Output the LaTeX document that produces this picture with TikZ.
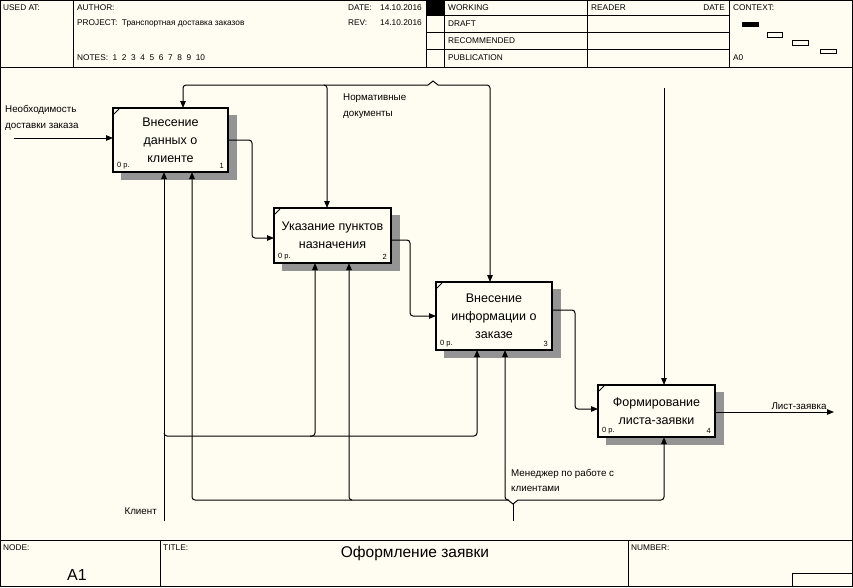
\documentclass[tikz,border=0pt]{standalone}
\usepackage{fontspec}
\setmainfont{Liberation Sans}
\usetikzlibrary{arrows.meta,calc}
\definecolor{bg}{RGB}{255,252,241}
\begin{document}
\begin{tikzpicture}[x=1pt,y=-1pt,
  hdr/.style={font=\fontsize{8.3}{9}\selectfont, anchor=west, inner sep=0pt},
  lbl/.style={font=\fontsize{9.8}{15.5}\selectfont, align=left, inner sep=0pt},
  proc/.style={draw, line width=2pt, fill=bg, inner sep=0pt, outer sep=0pt, align=center,
    font=\fontsize{12.5}{18}\selectfont},
  tag/.style={font=\fontsize{7.5}{8}\selectfont, inner sep=0pt},
  frame/.style={line width=1pt},
  link/.style={line width=1pt, rounded corners=3pt},
  arr/.style={link, -{Triangle[length=7pt,width=5.5pt]}},
  shadow/.style={fill=black!42}]
\useasboundingbox (0,0) rectangle (853,587);
\fill[bg] (0,0) rectangle (853,587);
% ---------------- header frame ----------------
\draw[frame] (0.5,0.5) rectangle (852.5,586.5);
\draw[frame] (0,67) -- (853,67);
\draw[frame] (73.5,0) -- (73.5,67);
\draw[frame] (426,0) -- (426,67);
\draw[frame] (444,0) -- (444,67);
\draw[frame] (587,0) -- (587,67);
\draw[frame] (729,0) -- (729,67);
\draw[frame] (426,15.5) -- (729,15.5);
\draw[frame] (426,32.5) -- (729,32.5);
\draw[frame] (426,49.5) -- (729,49.5);
\fill (426,0) rectangle (444,15.5);
\node[hdr] (usedat) at (3,8) {USED AT:};
\node[hdr] (author) at (77,8) {AUTHOR:};
\node[hdr] (project) at (77,23) {PROJECT:\ \ Транспортная доставка заказов};
\node[hdr] (notes) at (77,58) {NOTES:\ \ 1\ \ 2\ \ 3\ \ 4\ \ 5\ \ 6\ \ 7\ \ 8\ \ 9\ \ 10};
\node[hdr] (date) at (348,8) {DATE:};
\node[hdr] (datev) at (380,8) {14.10.2016};
\node[hdr] (rev) at (348,23) {REV:};
\node[hdr] (revv) at (380,23) {14.10.2016};
\node[hdr] (working) at (448,8) {WORKING};
\node[hdr] (draft) at (448,24) {DRAFT};
\node[hdr] (recom) at (448,41) {RECOMMENDED};
\node[hdr] (publ) at (448,58) {PUBLICATION};
\node[hdr] (reader) at (591,8) {READER};
\node[hdr, anchor=east] (rdate) at (725,8) {DATE};
\node[hdr] (context) at (733,8) {CONTEXT:};
\node[hdr] (a0) at (733,58) {A0};
\fill (742,22) rectangle (759,27);
\draw (767,32) rectangle (782,37);
\draw (792,40) rectangle (808,45);
\draw (820,49) rectangle (836,53);
% ---------------- footer ----------------
\draw[frame] (0,540) -- (853,540);
\draw[frame] (160,540) -- (160,587);
\draw[frame] (628,540) -- (628,587);
\draw[frame] (792,573) -- (792,587);
\draw[frame] (792,573) -- (853,573);
\node[hdr] (nodel) at (3,548) {NODE:};
\node[hdr] (titlel) at (163,548) {TITLE:};
\node[hdr] (numl) at (631,548) {NUMBER:};
\node[inner sep=0pt, font=\fontsize{16}{18}\selectfont] (a1) at (77,575) {A1};
\node[inner sep=0pt, font=\fontsize{15.5}{18}\selectfont] (title) at (415,553) {Оформление заявки};
% ---------------- boxes ----------------
\node[proc, minimum width=115pt, minimum height=64pt] (b1) at (170.5,140) {Внесение\\данных о\\клиенте};
\node[proc, minimum width=117pt, minimum height=55pt] (b2) at (332.5,235.5) {Указание пунктов\\назначения};
\node[proc, minimum width=116pt, minimum height=68pt] (b3) at (494,316) {Внесение\\информации о\\заказе};
\node[proc, minimum width=117pt, minimum height=52pt] (b4) at (656.5,411) {Формирование\\листа-заявки};
\foreach \b/\n in {b1/1,b2/2,b3/3,b4/4}{
  \fill[shadow] ($(\b.north east)+(1,7)$) rectangle ($(\b.south east)+(9,8)$);
  \fill[shadow] ($(\b.south west)+(8,1)$) rectangle ($(\b.south east)+(9,8)$);
  \draw[line width=1pt] ($(\b.north west)+(1,6)$) -- ($(\b.north west)+(6,1)$);
  \node[tag, anchor=south west] at ($(\b.south west)+(4,-3)$) {0 р.};
  \node[tag, anchor=south east] at ($(\b.south east)+(-4,-3)$) {\n};
}
% ---------------- inputs / outputs ----------------
\coordinate (inS) at (14,138);
\draw[arr] (inS) -- (inS -| b1.west);
\node[lbl, anchor=west] (inl) at (5,118) {Необходимость\\доставки заказа};
\draw[arr] (b1.east |- 0,140) -- (252,140) -- (252,238) -- (b2.west |- 0,238);
\draw[arr] (b2.east |- 0,240) -- (410,240) -- (410,316) -- (b3.west |- 0,316);
\draw[arr] (b3.east |- 0,310) -- (575,310) -- (575,409) -- (b4.west |- 0,409);
\coordinate (outE) at (834,412);
\draw[arr] (b4.east |- outE) -- (outE);
\node[lbl, anchor=south] (outl) at (799,410) {Лист-заявка};
% ---------------- controls ----------------
\draw[line width=1pt] (428,85) -- (433,81) -- (438,85);
\draw[arr] (428,85) -- (183,85) -- (b1.north -| 183,0);
\draw[arr] (324,85) -- (327,85) -- (b2.north -| 327,0);
\draw[arr] (438,85) -- (490,85) -- (b3.north -| 490,0);
\coordinate (ctl4) at (664,88);
\draw[arr] (ctl4) -- (b4.north -| ctl4);
\node[lbl, anchor=north west] (ctll) at (343,94) {Нормативные\\документы};
% ---------------- mechanisms ----------------
\coordinate (cliS) at (164,521);
\draw[arr] (cliS) -- (b1.south -| cliS);
\draw[arr] (164,433) -- (164,436) -- (477,436) -- (b3.south -| 477,0);
\draw[arr] (310,436) -- (315,436) -- (b2.south -| 315,0);
\node[lbl, anchor=east] (clil) at (157,511) {Клиент};
\coordinate (mgrS) at (513,521);
\draw[line width=1pt] (mgrS) -- (513,504);
\draw[line width=1pt] (508,500) -- (513,504) -- (518,500);
\draw[arr] (508,500) -- (192,500) -- (b1.south -| 192,0);
\draw[arr] (352,500) -- (349,500) -- (b2.south -| 349,0);
\draw[arr] (509,500) -- (505,500) -- (b3.south -| 505,0);
\draw[arr] (518,500) -- (664,500) -- (b4.south -| 664,0);
\node[lbl, anchor=north west] (mgrl) at (511,469) {Менеджер по работе с\\клиентами};
\end{tikzpicture}
\end{document}
